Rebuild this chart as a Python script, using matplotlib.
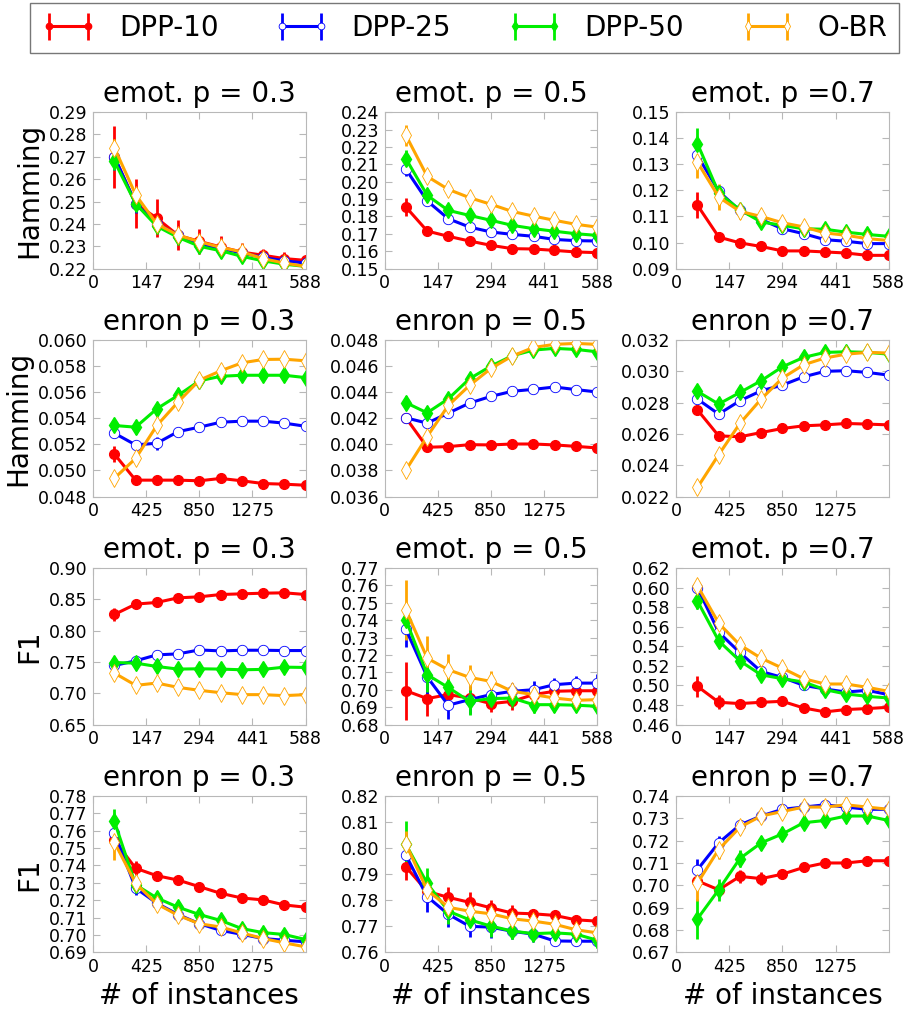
import numpy as np
import matplotlib
matplotlib.use("Agg")
import matplotlib.pyplot as plt

# x positions (number of training instances)
x_emot = [59, 118, 176, 235, 294, 353, 412, 470, 529, 588]
x_enron = [170, 340, 510, 680, 850, 1020, 1190, 1360, 1530, 1700]

methods = ["DPP-10", "DPP-25", "DPP-50", "O-BR"]

# each panel: [DPP-10, DPP-25, DPP-50, O-BR]
ham_emot_03 = [
    [0.2699, 0.2490, 0.2426, 0.2349, 0.2322, 0.2297, 0.2274, 0.2260, 0.2245, 0.2237],
    [0.2700, 0.2490, 0.2400, 0.2350, 0.2310, 0.2290, 0.2270, 0.2250, 0.2235, 0.2225],
    [0.2680, 0.2490, 0.2390, 0.2340, 0.2300, 0.2280, 0.2255, 0.2235, 0.2220, 0.2210],
    [0.2740, 0.2530, 0.2400, 0.2350, 0.2320, 0.2295, 0.2275, 0.2245, 0.2225, 0.2210],
]
ham_emot_03_err = [
    [0.014, 0.011, 0.0085, 0.0067, 0.0055, 0.005, 0.004, 0.003, 0.003, 0.002],
    [0.006, 0.004, 0.002, 0.002, 0.001, 0.001, 0.001, 0.001, 0.001, 0.001],
    [0.004, 0.003, 0.002, 0.001, 0.001, 0.001, 0.001, 0.001, 0.001, 0.001],
    [0.004, 0.003, 0.002, 0.001, 0.001, 0.001, 0.001, 0.001, 0.001, 0.001],
]

ham_emot_05 = [
    [0.1854, 0.1716, 0.1686, 0.1659, 0.1634, 0.1615, 0.1613, 0.1605, 0.1596, 0.1592],
    [0.2071, 0.1889, 0.1787, 0.1739, 0.1711, 0.1697, 0.1686, 0.1668, 0.1661, 0.1659],
    [0.2132, 0.1921, 0.1835, 0.1806, 0.1778, 0.1749, 0.1730, 0.1715, 0.1701, 0.1691],
    [0.2266, 0.2030, 0.1956, 0.1908, 0.1870, 0.1829, 0.1802, 0.1778, 0.1755, 0.1739],
]
ham_emot_05_err = [
    [0.005, 0.002, 0.001, 0.001, 0.001, 0.001, 0.001, 0.001, 0.001, 0.001],
    [0.004, 0.002, 0.001, 0.001, 0.001, 0.001, 0.001, 0.001, 0.001, 0.001],
    [0.005, 0.002, 0.002, 0.001, 0.001, 0.001, 0.001, 0.001, 0.001, 0.001],
    [0.006, 0.002, 0.001, 0.001, 0.001, 0.001, 0.001, 0.001, 0.001, 0.001],
]

ham_emot_07 = [
    [0.1143, 0.1021, 0.0999, 0.0985, 0.0968, 0.0968, 0.0964, 0.0960, 0.0951, 0.0951],
    [0.1334, 0.1196, 0.1123, 0.1088, 0.1053, 0.1034, 0.1011, 0.1005, 0.0996, 0.0996],
    [0.1379, 0.1190, 0.1126, 0.1079, 0.1066, 0.1053, 0.1051, 0.1040, 0.1031, 0.1024],
    [0.1308, 0.1174, 0.1120, 0.1100, 0.1076, 0.1060, 0.1037, 0.1028, 0.1015, 0.1008],
]
ham_emot_07_err = [
    [0.005, 0.002, 0.001, 0.001, 0.0007, 0.0007, 0.0007, 0.0007, 0.0007, 0.0007],
    [0.003, 0.002, 0.001, 0.001, 0.001, 0.001, 0.001, 0.001, 0.001, 0.001],
    [0.006, 0.003, 0.002, 0.002, 0.001, 0.001, 0.001, 0.001, 0.001, 0.001],
    [0.006, 0.005, 0.003, 0.002, 0.002, 0.001, 0.001, 0.001, 0.001, 0.001],
]

ham_enron_03 = [
    [0.05126, 0.04926, 0.04926, 0.04926, 0.04921, 0.04939, 0.04921, 0.04900, 0.04895, 0.04887],
    [0.05286, 0.05196, 0.05209, 0.05298, 0.05332, 0.05370, 0.05378, 0.05378, 0.05363, 0.05339],
    [0.05345, 0.05332, 0.05473, 0.05576, 0.05687, 0.05722, 0.05730, 0.05730, 0.05730, 0.05712],
    [0.04941, 0.05092, 0.05345, 0.05525, 0.05692, 0.05764, 0.05825, 0.05851, 0.05853, 0.05841],
]
ham_enron_03_err = [
    [0.0006, 0.0003, 0.0002, 0.0002, 0.0002, 0.0002, 0.0002, 0.0002, 0.0002, 0.0002],
    [0.0004, 0.0003, 0.0005, 0.0002, 0.0002, 0.0002, 0.0002, 0.0002, 0.0002, 0.0002],
    [0.0004, 0.0005, 0.0004, 0.0003, 0.0002, 0.0002, 0.0002, 0.0002, 0.0002, 0.0002],
    [0.0004, 0.0003, 0.0003, 0.0002, 0.0002, 0.0002, 0.0002, 0.0002, 0.0002, 0.0002],
]

ham_enron_05 = [
    [0.04204, 0.03978, 0.03983, 0.03998, 0.03996, 0.04003, 0.04003, 0.03996, 0.03985, 0.03973],
    [0.04204, 0.04163, 0.04240, 0.04317, 0.04368, 0.04407, 0.04422, 0.04440, 0.04420, 0.04402],
    [0.04320, 0.04242, 0.04350, 0.04504, 0.04600, 0.04679, 0.04723, 0.04736, 0.04728, 0.04710],
    [0.03803, 0.04060, 0.04299, 0.04453, 0.04582, 0.04677, 0.04743, 0.04767, 0.04774, 0.04767],
]
ham_enron_05_err = [
    [0.0004, 0.0002, 0.0002, 0.0002, 0.0002, 0.0002, 0.0002, 0.0002, 0.0002, 0.0002],
    [0.0004, 0.0002, 0.0002, 0.0002, 0.0002, 0.0002, 0.0002, 0.0002, 0.0002, 0.0002],
    [0.0005, 0.0004, 0.0003, 0.0003, 0.0002, 0.0002, 0.0002, 0.0002, 0.0002, 0.0002],
    [0.0004, 0.0003, 0.0002, 0.0002, 0.0002, 0.0002, 0.0002, 0.0002, 0.0002, 0.0002],
]

ham_enron_07 = [
    [0.02754, 0.02588, 0.02582, 0.02609, 0.02635, 0.02652, 0.02658, 0.02667, 0.02663, 0.02658],
    [0.02823, 0.02727, 0.02812, 0.02876, 0.02912, 0.02965, 0.03000, 0.03004, 0.02993, 0.02976],
    [0.02872, 0.02791, 0.02865, 0.02940, 0.03029, 0.03089, 0.03121, 0.03125, 0.03121, 0.03110],
    [0.02258, 0.02467, 0.02667, 0.02823, 0.02957, 0.03042, 0.03085, 0.03110, 0.03121, 0.03117],
]
ham_enron_07_err = [
    [0.0003, 0.0003, 0.0003, 0.0002, 0.0002, 0.0001, 0.0001, 0.0001, 0.0001, 0.0001],
    [0.0002, 0.0002, 0.0001, 0.0001, 0.0001, 0.0001, 0.0001, 0.0001, 0.0001, 0.0001],
    [0.0004, 0.0002, 0.0002, 0.0002, 0.0002, 0.0001, 0.0001, 0.0001, 0.0001, 0.0001],
    [0.0002, 0.0001, 0.0001, 0.0001, 0.0001, 0.0001, 0.0001, 0.0001, 0.0001, 0.0001],
]

f1_emot_03 = [
    [0.8258, 0.8423, 0.8449, 0.8523, 0.8539, 0.8576, 0.8587, 0.8597, 0.8603, 0.8576],
    [0.7443, 0.7517, 0.7612, 0.7628, 0.7691, 0.7675, 0.7686, 0.7686, 0.7681, 0.7681],
    [0.7490, 0.7480, 0.7427, 0.7385, 0.7390, 0.7385, 0.7374, 0.7380, 0.7416, 0.7411],
    [0.7321, 0.7125, 0.7162, 0.7093, 0.7046, 0.7008, 0.6977, 0.6977, 0.6961, 0.6977],
]
f1_emot_03_err = [
    [0.010, 0.005, 0.004, 0.003, 0.003, 0.003, 0.002, 0.002, 0.002, 0.002],
    [0.005, 0.004, 0.003, 0.002, 0.002, 0.002, 0.002, 0.002, 0.002, 0.002],
    [0.009, 0.009, 0.006, 0.004, 0.004, 0.004, 0.004, 0.003, 0.003, 0.003],
    [0.009, 0.004, 0.003, 0.003, 0.002, 0.002, 0.002, 0.002, 0.002, 0.002],
]

f1_emot_05 = [
    [0.6994, 0.6949, 0.6972, 0.6952, 0.6920, 0.6933, 0.6972, 0.6991, 0.6994, 0.6994],
    [0.7347, 0.7073, 0.6911, 0.6943, 0.6972, 0.6991, 0.7000, 0.7029, 0.7038, 0.7038],
    [0.7401, 0.7086, 0.7013, 0.6933, 0.6949, 0.6952, 0.6914, 0.6914, 0.6911, 0.6905],
    [0.7458, 0.7181, 0.7115, 0.7071, 0.7048, 0.6991, 0.6972, 0.6952, 0.6939, 0.6943],
]
f1_emot_05_err = [
    [0.0167, 0.010, 0.008, 0.006, 0.005, 0.005, 0.004, 0.004, 0.003, 0.003],
    [0.010, 0.010, 0.008, 0.008, 0.005, 0.005, 0.005, 0.004, 0.004, 0.005],
    [0.010, 0.010, 0.008, 0.008, 0.005, 0.005, 0.005, 0.004, 0.004, 0.004],
    [0.017, 0.013, 0.009, 0.007, 0.006, 0.004, 0.003, 0.003, 0.003, 0.003],
]

f1_emot_07 = [
    [0.4990, 0.4827, 0.4814, 0.4827, 0.4837, 0.4769, 0.4729, 0.4753, 0.4763, 0.4776],
    [0.5997, 0.5542, 0.5336, 0.5142, 0.5081, 0.5000, 0.4963, 0.4932, 0.4949, 0.4905],
    [0.5861, 0.5454, 0.5251, 0.5108, 0.5068, 0.5034, 0.4956, 0.4912, 0.4888, 0.4871],
    [0.6017, 0.5634, 0.5414, 0.5278, 0.5176, 0.5068, 0.5014, 0.5014, 0.4980, 0.4939],
]
f1_emot_07_err = [
    [0.011, 0.007, 0.004, 0.005, 0.004, 0.003, 0.003, 0.003, 0.003, 0.003],
    [0.006, 0.006, 0.004, 0.004, 0.004, 0.004, 0.003, 0.003, 0.003, 0.003],
    [0.008, 0.007, 0.005, 0.004, 0.004, 0.004, 0.003, 0.003, 0.003, 0.003],
    [0.006, 0.005, 0.004, 0.004, 0.003, 0.003, 0.003, 0.003, 0.003, 0.002],
]

f1_enron_03 = [
    [0.7544, 0.7384, 0.7341, 0.7316, 0.7278, 0.7240, 0.7213, 0.7202, 0.7173, 0.7160],
    [0.7587, 0.7270, 0.7183, 0.7118, 0.7065, 0.7027, 0.7004, 0.6980, 0.6970, 0.6961],
    [0.7654, 0.7289, 0.7213, 0.7160, 0.7118, 0.7084, 0.7037, 0.7014, 0.7003, 0.6974],
    [0.7534, 0.7297, 0.7179, 0.7113, 0.7065, 0.7046, 0.7012, 0.6980, 0.6955, 0.6932],
]
f1_enron_03_err = [
    [0.005, 0.004, 0.003, 0.002, 0.002, 0.002, 0.002, 0.002, 0.002, 0.002],
    [0.004, 0.004, 0.002, 0.002, 0.002, 0.001, 0.001, 0.001, 0.001, 0.001],
    [0.007, 0.003, 0.002, 0.002, 0.002, 0.002, 0.001, 0.001, 0.001, 0.001],
    [0.010, 0.003, 0.002, 0.002, 0.002, 0.002, 0.002, 0.002, 0.002, 0.002],
]

f1_enron_05 = [
    [0.7928, 0.7834, 0.7811, 0.7792, 0.7771, 0.7751, 0.7748, 0.7742, 0.7725, 0.7720],
    [0.7973, 0.7814, 0.7746, 0.7700, 0.7697, 0.7681, 0.7670, 0.7644, 0.7643, 0.7643],
    [0.8014, 0.7865, 0.7758, 0.7725, 0.7701, 0.7682, 0.7672, 0.7675, 0.7670, 0.7647],
    [0.8016, 0.7839, 0.7773, 0.7758, 0.7748, 0.7729, 0.7720, 0.7708, 0.7687, 0.7675],
]
f1_enron_05_err = [
    [0.005, 0.002, 0.004, 0.004, 0.003, 0.003, 0.002, 0.002, 0.002, 0.002],
    [0.005, 0.006, 0.005, 0.004, 0.004, 0.003, 0.003, 0.002, 0.002, 0.002],
    [0.009, 0.006, 0.005, 0.004, 0.004, 0.003, 0.003, 0.003, 0.003, 0.003],
    [0.005, 0.003, 0.002, 0.002, 0.002, 0.002, 0.002, 0.002, 0.002, 0.002],
]

f1_enron_07 = [
    [0.702, 0.698, 0.704, 0.703, 0.705, 0.708, 0.710, 0.710, 0.711, 0.711],
    [0.707, 0.719, 0.727, 0.731, 0.734, 0.735, 0.736, 0.735, 0.734, 0.734],
    [0.685, 0.698, 0.712, 0.719, 0.723, 0.728, 0.729, 0.731, 0.731, 0.729],
    [0.701, 0.716, 0.726, 0.731, 0.733, 0.735, 0.735, 0.736, 0.735, 0.734],
]
f1_enron_07_err = [
    [0.004, 0.003, 0.003, 0.003, 0.002, 0.002, 0.002, 0.002, 0.002, 0.002],
    [0.005, 0.003, 0.002, 0.002, 0.002, 0.002, 0.002, 0.002, 0.002, 0.002],
    [0.009, 0.005, 0.004, 0.003, 0.003, 0.003, 0.002, 0.002, 0.002, 0.002],
    [0.008, 0.004, 0.003, 0.002, 0.002, 0.002, 0.002, 0.002, 0.002, 0.002],
]

# panel layout: rows x cols
panels = [
    [(ham_emot_03, ham_emot_03_err, "emot. p = 0.3", (0.22, 0.29, 0.01)),
     (ham_emot_05, ham_emot_05_err, "emot. p = 0.5", (0.15, 0.24, 0.01)),
     (ham_emot_07, ham_emot_07_err, "emot. p =0.7", (0.09, 0.15, 0.01))],
    [(ham_enron_03, ham_enron_03_err, "enron p = 0.3", (0.048, 0.060, 0.002)),
     (ham_enron_05, ham_enron_05_err, "enron p = 0.5", (0.036, 0.048, 0.002)),
     (ham_enron_07, ham_enron_07_err, "enron p =0.7", (0.022, 0.032, 0.002))],
    [(f1_emot_03, f1_emot_03_err, "emot. p = 0.3", (0.65, 0.90, 0.05)),
     (f1_emot_05, f1_emot_05_err, "emot. p = 0.5", (0.68, 0.77, 0.01)),
     (f1_emot_07, f1_emot_07_err, "emot. p =0.7", (0.46, 0.62, 0.02))],
    [(f1_enron_03, f1_enron_03_err, "enron p = 0.3", (0.69, 0.78, 0.01)),
     (f1_enron_05, f1_enron_05_err, "enron p = 0.5", (0.76, 0.82, 0.01)),
     (f1_enron_07, f1_enron_07_err, "enron p =0.7", (0.67, 0.74, 0.01))],
]
row_labels = ["Hamming", "Hamming", "F1", "F1"]

styles = [
    dict(color="red", marker="o", mfc="red", mec="red", ms=7, mew=1),
    dict(color="blue", marker="o", mfc="white", mec="blue", ms=7.5, mew=0.6),
    dict(color="#00ee00", marker="d", mfc="#00ee00", mec="#00ee00", ms=8, mew=1),
    dict(color="orange", marker="d", mfc="white", mec="orange", ms=9, mew=0.6),
]

frame_gray = "#b8b8b8"

fig, axes = plt.subplots(4, 3, figsize=(9.04, 10.10), dpi=100)
fig.subplots_adjust(left=0.103, right=0.983, bottom=0.057, top=0.889,
                    wspace=0.372, hspace=0.456)

handles = []
for r in range(4):
    for c in range(3):
        ax = axes[r, c]
        vals, errs, title, (lo, hi, step) = panels[r][c]
        xs = x_emot if r % 2 == 0 else x_enron
        for i in range(4):
            h = ax.errorbar(xs, vals[i], yerr=errs[i], lw=2.2, elinewidth=2,
                            capsize=0, label=methods[i], **styles[i])
            if r == 0 and c == 0:
                handles.append(h)
        ax.set_title(title, fontsize=20, pad=7)
        ax.set_ylim(lo, hi)
        ax.set_yticks(np.round(np.arange(lo, hi + step / 2, step), 4))
        if r % 2 == 0:
            ax.set_xlim(0, 588)
            ax.set_xticks([0, 147, 294, 441, 588])
        else:
            ax.set_xlim(0, 1700)
            ax.set_xticks([0, 425, 850, 1275])
        ax.tick_params(direction="in", length=5, color=frame_gray,
                       labelsize=12.5, top=True, right=True, pad=4)
        for sp in ax.spines.values():
            sp.set_color(frame_gray)
        if c == 0:
            ax.set_ylabel(row_labels[r], fontsize=20)
        if r == 3:
            ax.set_xlabel("# of instances", fontsize=20)

fig.legend(handles, methods, loc="upper center", bbox_to_anchor=(0.5135, 0.997),
           ncol=4, fontsize=20, numpoints=2, markerscale=0.65, handlelength=2.0,
           handletextpad=0.8, columnspacing=2.0, frameon=True, fancybox=False,
           edgecolor="#555555", borderpad=0.4, borderaxespad=0)

fig.savefig("out.png", dpi=100)
